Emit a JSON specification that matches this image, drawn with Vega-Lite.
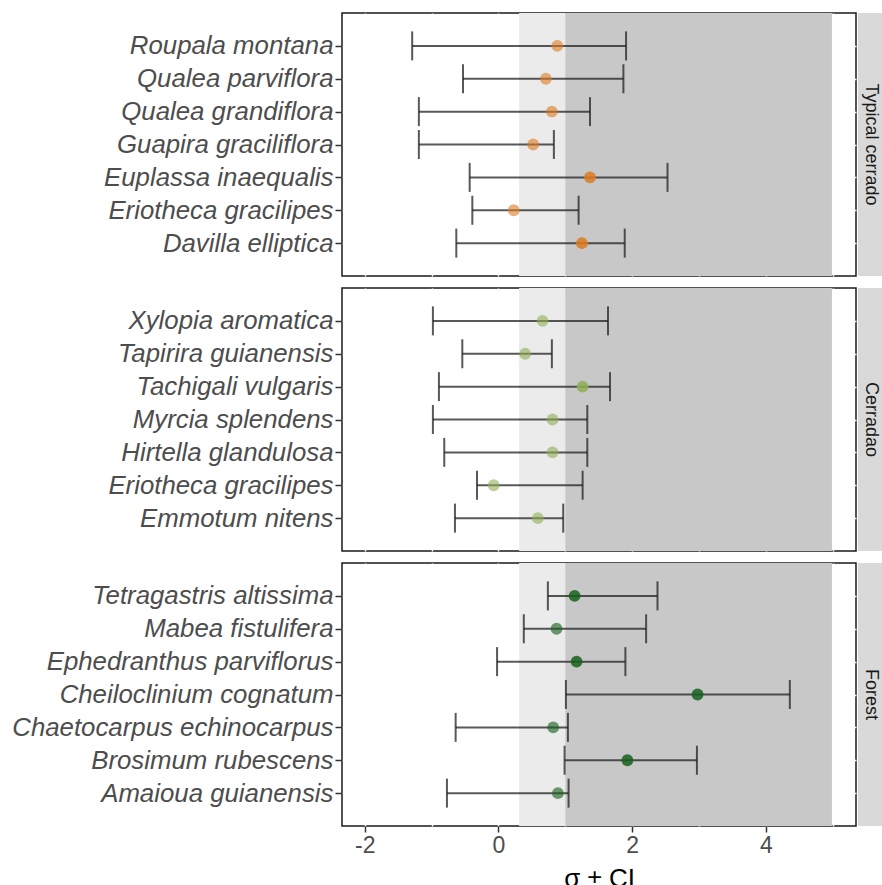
{
  "$schema": "https://vega.github.io/schema/vega-lite/v6.json",
  "padding": {"left": 11, "top": 12, "right": 0, "bottom": 0},
  "spacing": 10,
  "background": "white",
  "config": {
    "font": "Liberation Sans",
    "view": {"stroke": "#1a1a1a", "strokeWidth": 1.5},
    "axisY": {
      "labelFont": "Liberation Sans", "labelFontStyle": "italic", "labelFontSize": 25.8,
      "labelColor": "#4D4D4D", "tickColor": "#333333", "tickSize": 7, "tickWidth": 1.5,
      "labelPadding": 2, "domain": false, "title": null, "grid": true,
      "gridColor": "#FFFFFF", "gridWidth": 1.5, "labelLimit": 500
    },
    "axisX": {
      "labelFont": "Liberation Sans", "labelFontSize": 23, "labelColor": "#4D4D4D",
      "tickColor": "#333333", "tickSize": 6, "tickWidth": 1.5, "domain": false,
      "grid": true, "gridColor": "#FFFFFF", "gridWidth": 1.5, "labelOverlap": false, "labelFlush": false
    }
  },
  "datasets": {
    "sp": [
      {"habitat": "Typical cerrado", "species": "Roupala montana", "sigma": 0.88, "lower": -1.29, "upper": 1.91},
      {"habitat": "Typical cerrado", "species": "Qualea parviflora", "sigma": 0.71, "lower": -0.53, "upper": 1.87},
      {"habitat": "Typical cerrado", "species": "Qualea grandiflora", "sigma": 0.80, "lower": -1.19, "upper": 1.37},
      {"habitat": "Typical cerrado", "species": "Guapira graciliflora", "sigma": 0.52, "lower": -1.19, "upper": 0.83},
      {"habitat": "Typical cerrado", "species": "Euplassa inaequalis", "sigma": 1.37, "lower": -0.43, "upper": 2.53},
      {"habitat": "Typical cerrado", "species": "Eriotheca gracilipes", "sigma": 0.23, "lower": -0.39, "upper": 1.20},
      {"habitat": "Typical cerrado", "species": "Davilla elliptica", "sigma": 1.25, "lower": -0.63, "upper": 1.89},
      {"habitat": "Cerradao", "species": "Xylopia aromatica", "sigma": 0.66, "lower": -0.98, "upper": 1.64},
      {"habitat": "Cerradao", "species": "Tapirira guianensis", "sigma": 0.40, "lower": -0.54, "upper": 0.80},
      {"habitat": "Cerradao", "species": "Tachigali vulgaris", "sigma": 1.26, "lower": -0.89, "upper": 1.67},
      {"habitat": "Cerradao", "species": "Myrcia splendens", "sigma": 0.81, "lower": -0.98, "upper": 1.33},
      {"habitat": "Cerradao", "species": "Hirtella glandulosa", "sigma": 0.81, "lower": -0.81, "upper": 1.33},
      {"habitat": "Cerradao", "species": "Eriotheca gracilipes", "sigma": -0.07, "lower": -0.32, "upper": 1.26},
      {"habitat": "Cerradao", "species": "Emmotum nitens", "sigma": 0.59, "lower": -0.65, "upper": 0.97},
      {"habitat": "Forest", "species": "Tetragastris altissima", "sigma": 1.14, "lower": 0.74, "upper": 2.38},
      {"habitat": "Forest", "species": "Mabea fistulifera", "sigma": 0.87, "lower": 0.38, "upper": 2.21},
      {"habitat": "Forest", "species": "Ephedranthus parviflorus", "sigma": 1.17, "lower": -0.02, "upper": 1.90},
      {"habitat": "Forest", "species": "Cheiloclinium cognatum", "sigma": 2.98, "lower": 1.01, "upper": 4.36},
      {"habitat": "Forest", "species": "Chaetocarpus echinocarpus", "sigma": 0.82, "lower": -0.64, "upper": 1.04},
      {"habitat": "Forest", "species": "Brosimum rubescens", "sigma": 1.93, "lower": 0.99, "upper": 2.97},
      {"habitat": "Forest", "species": "Amaioua guianensis", "sigma": 0.89, "lower": -0.77, "upper": 1.05}
    ],
    "bands": [
      {"zone": "weak", "xmin": 0.31, "xmax": 1.0},
      {"zone": "strong", "xmin": 1.0, "xmax": 4.99}
    ],
    "strips": [
      {"habitat": "Typical cerrado"},
      {"habitat": "Cerradao"},
      {"habitat": "Forest"}
    ]
  },
  "vconcat": [
    {
      "spacing": 1,
      "hconcat": [
        {
          "width": 514, "height": 263,
          "layer": [
            {
              "data": {"name": "bands"},
              "mark": {"type": "rect"},
              "encoding": {
                "x": {"field": "xmin", "type": "quantitative", "scale": {"domain": [-2.34, 5.35], "nice": false, "zero": false},
                  "axis": {"values": [-2, -1, 0, 1, 2, 3, 4, 5], "labels": false, "ticks": false, "title": null}},
                "x2": {"field": "xmax"},
                "color": {"field": "zone", "type": "nominal", "scale": {"domain": ["weak", "strong"], "range": ["#EBEBEB", "#C8C8C8"]}, "legend": null}
              }
            },
            {
              "data": {"name": "sp"},
              "transform": [{"filter": "datum.habitat === 'Typical cerrado'"}],
              "mark": {"type": "rule", "color": "#222222", "opacity": 0.75, "strokeWidth": 2},
              "encoding": {
                "y": {"field": "species", "type": "nominal", "sort": null, "scale": {"type": "point", "padding": 1}},
                "x": {"field": "lower", "type": "quantitative"},
                "x2": {"field": "upper"}
              }
            },
            {
              "data": {"name": "sp"},
              "transform": [{"filter": "datum.habitat === 'Typical cerrado'"}],
              "mark": {"type": "tick", "color": "#222222", "opacity": 0.75, "thickness": 2, "size": 29},
              "encoding": {
                "y": {"field": "species", "type": "nominal", "sort": null},
                "x": {"field": "lower", "type": "quantitative"}
              }
            },
            {
              "data": {"name": "sp"},
              "transform": [{"filter": "datum.habitat === 'Typical cerrado'"}],
              "mark": {"type": "tick", "color": "#222222", "opacity": 0.75, "thickness": 2, "size": 29},
              "encoding": {
                "y": {"field": "species", "type": "nominal", "sort": null},
                "x": {"field": "upper", "type": "quantitative"}
              }
            },
            {
              "data": {"name": "sp"},
              "transform": [{"filter": "datum.habitat === 'Typical cerrado'"}],
              "mark": {"type": "circle", "size": 140, "color": "#DD7A20"},
              "encoding": {
                "y": {"field": "species", "type": "nominal", "sort": null},
                "x": {"field": "sigma", "type": "quantitative"},
                "opacity": {"condition": {"test": "datum.sigma > 1", "value": 0.85}, "value": 0.6}
              }
            }
          ]
        },
        {
          "width": 26, "height": 263,
          "view": {"fill": "#D9D9D9", "stroke": null},
          "data": {"name": "strips"},
          "transform": [{"filter": "datum.habitat === 'Typical cerrado'"}],
          "mark": {"type": "text", "angle": 90, "fontSize": 18, "color": "#1A1A1A", "align": "center", "baseline": "middle"},
          "encoding": {"text": {"field": "habitat", "type": "nominal"}}
        }
      ]
    },
    {
      "spacing": 1,
      "hconcat": [
        {
          "width": 514, "height": 263,
          "layer": [
            {
              "data": {"name": "bands"},
              "mark": {"type": "rect"},
              "encoding": {
                "x": {"field": "xmin", "type": "quantitative", "scale": {"domain": [-2.34, 5.35], "nice": false, "zero": false},
                  "axis": {"values": [-2, -1, 0, 1, 2, 3, 4, 5], "labels": false, "ticks": false, "title": null}},
                "x2": {"field": "xmax"},
                "color": {"field": "zone", "type": "nominal", "scale": {"domain": ["weak", "strong"], "range": ["#EBEBEB", "#C8C8C8"]}, "legend": null}
              }
            },
            {
              "data": {"name": "sp"},
              "transform": [{"filter": "datum.habitat === 'Cerradao'"}],
              "mark": {"type": "rule", "color": "#222222", "opacity": 0.75, "strokeWidth": 2},
              "encoding": {
                "y": {"field": "species", "type": "nominal", "sort": null, "scale": {"type": "point", "padding": 1}},
                "x": {"field": "lower", "type": "quantitative"},
                "x2": {"field": "upper"}
              }
            },
            {
              "data": {"name": "sp"},
              "transform": [{"filter": "datum.habitat === 'Cerradao'"}],
              "mark": {"type": "tick", "color": "#222222", "opacity": 0.75, "thickness": 2, "size": 29},
              "encoding": {
                "y": {"field": "species", "type": "nominal", "sort": null},
                "x": {"field": "lower", "type": "quantitative"}
              }
            },
            {
              "data": {"name": "sp"},
              "transform": [{"filter": "datum.habitat === 'Cerradao'"}],
              "mark": {"type": "tick", "color": "#222222", "opacity": 0.75, "thickness": 2, "size": 29},
              "encoding": {
                "y": {"field": "species", "type": "nominal", "sort": null},
                "x": {"field": "upper", "type": "quantitative"}
              }
            },
            {
              "data": {"name": "sp"},
              "transform": [{"filter": "datum.habitat === 'Cerradao'"}],
              "mark": {"type": "circle", "size": 140, "color": "#8FAF55"},
              "encoding": {
                "y": {"field": "species", "type": "nominal", "sort": null},
                "x": {"field": "sigma", "type": "quantitative"},
                "opacity": {"condition": {"test": "datum.sigma > 1", "value": 0.85}, "value": 0.6}
              }
            }
          ]
        },
        {
          "width": 26, "height": 263,
          "view": {"fill": "#D9D9D9", "stroke": null},
          "data": {"name": "strips"},
          "transform": [{"filter": "datum.habitat === 'Cerradao'"}],
          "mark": {"type": "text", "angle": 90, "fontSize": 18, "color": "#1A1A1A", "align": "center", "baseline": "middle"},
          "encoding": {"text": {"field": "habitat", "type": "nominal"}}
        }
      ]
    },
    {
      "spacing": 1,
      "hconcat": [
        {
          "width": 514, "height": 263,
          "layer": [
            {
              "data": {"name": "bands"},
              "mark": {"type": "rect"},
              "encoding": {
                "x": {"field": "xmin", "type": "quantitative", "scale": {"domain": [-2.34, 5.35], "nice": false, "zero": false},
                  "axis": {"values": [-2, -1, 0, 1, 2, 3, 4, 5], "title": "σ ± CI", "titleFontSize": 26, "titleColor": "#000000", "titleFontWeight": "normal", "titlePadding": 8, "labelPadding": 2,
                    "labelExpr": "datum.value % 2 === 0 ? (datum.value < 0 ? '-' + abs(datum.value) : '' + datum.value) : ''",
                    "tickOpacity": {"condition": {"test": "datum.value % 2 === 0", "value": 1}, "value": 0}}},
                "x2": {"field": "xmax"},
                "color": {"field": "zone", "type": "nominal", "scale": {"domain": ["weak", "strong"], "range": ["#EBEBEB", "#C8C8C8"]}, "legend": null}
              }
            },
            {
              "data": {"name": "sp"},
              "transform": [{"filter": "datum.habitat === 'Forest'"}],
              "mark": {"type": "rule", "color": "#222222", "opacity": 0.75, "strokeWidth": 2},
              "encoding": {
                "y": {"field": "species", "type": "nominal", "sort": null, "scale": {"type": "point", "padding": 1}},
                "x": {"field": "lower", "type": "quantitative"},
                "x2": {"field": "upper"}
              }
            },
            {
              "data": {"name": "sp"},
              "transform": [{"filter": "datum.habitat === 'Forest'"}],
              "mark": {"type": "tick", "color": "#222222", "opacity": 0.75, "thickness": 2, "size": 29},
              "encoding": {
                "y": {"field": "species", "type": "nominal", "sort": null},
                "x": {"field": "lower", "type": "quantitative"}
              }
            },
            {
              "data": {"name": "sp"},
              "transform": [{"filter": "datum.habitat === 'Forest'"}],
              "mark": {"type": "tick", "color": "#222222", "opacity": 0.75, "thickness": 2, "size": 29},
              "encoding": {
                "y": {"field": "species", "type": "nominal", "sort": null},
                "x": {"field": "upper", "type": "quantitative"}
              }
            },
            {
              "data": {"name": "sp"},
              "transform": [{"filter": "datum.habitat === 'Forest'"}],
              "mark": {"type": "circle", "size": 140, "color": "#16601C"},
              "encoding": {
                "y": {"field": "species", "type": "nominal", "sort": null},
                "x": {"field": "sigma", "type": "quantitative"},
                "opacity": {"condition": {"test": "datum.sigma > 1", "value": 0.85}, "value": 0.62}
              }
            }
          ]
        },
        {
          "width": 26, "height": 263,
          "view": {"fill": "#D9D9D9", "stroke": null},
          "data": {"name": "strips"},
          "transform": [{"filter": "datum.habitat === 'Forest'"}],
          "mark": {"type": "text", "angle": 90, "fontSize": 18, "color": "#1A1A1A", "align": "center", "baseline": "middle"},
          "encoding": {"text": {"field": "habitat", "type": "nominal"}}
        }
      ]
    }
  ]
}
